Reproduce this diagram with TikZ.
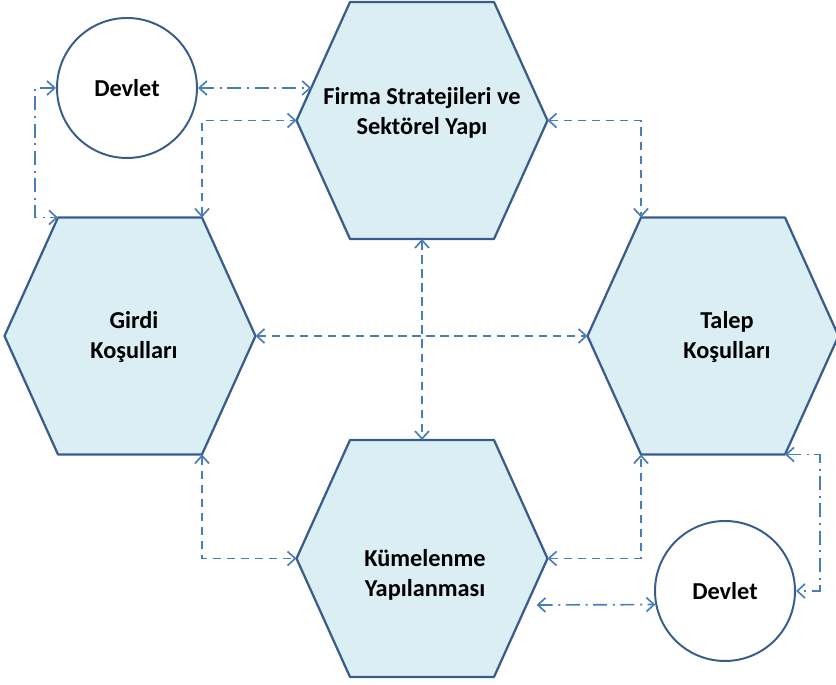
\documentclass[tikz,border=0pt]{standalone}
\usepackage{fontspec}
\setmainfont{Carlito}
\usepackage{tikz}
\usepackage{tkz-euclide}
\usetikzlibrary{calc}
\usetikzlibrary{positioning}
\usetikzlibrary{arrows.meta}

\definecolor{hexfill}{RGB}{219,238,244}
\definecolor{hexline}{RGB}{56,93,138}
\definecolor{linkblue}{RGB}{74,126,187}

\begin{document}
\begin{tikzpicture}[%
  >={Straight Barb[length=5.5pt,width=10pt]},
  hex/.style={fill=hexfill, draw=hexline, line width=1.6pt},
  gov/.style={circle, draw=hexline, line width=1.4pt, fill=white,
    minimum size=3.5cm, inner sep=0pt},
  lbl/.style={font=\fontsize{17.3}{21.5}\selectfont\bfseries, align=center},
  link/.style={<->, linkblue, line width=1.2pt, dash pattern=on 6pt off 4pt},
  govlink/.style={<->, linkblue, line width=1.2pt,
    dash pattern=on 10pt off 4pt on 1.4pt off 4pt},
]

  \useasboundingbox (0,0) rectangle (20.9,17.125);

  \tkzDefPoint(7.4125, 14.1125){f1}
  \tkzDefPoint(8.75, 17.075){f2}
  \tkzDefPoint(12.35, 17.075){f3}
  \tkzDefPoint(13.6875, 14.1125){f4}
  \tkzDefPoint(12.35, 11.15){f5}
  \tkzDefPoint(8.75, 11.15){f6}

  \tkzDefPoint(0.1125, 8.725){g1}
  \tkzDefPoint(1.45, 11.6875){g2}
  \tkzDefPoint(5.05, 11.6875){g3}
  \tkzDefPoint(6.3875, 8.725){g4}
  \tkzDefPoint(5.05, 5.7625){g5}
  \tkzDefPoint(1.45, 5.7625){g6}

  \tkzDefPoint(14.6875, 8.725){t1}
  \tkzDefPoint(16.025, 11.6875){t2}
  \tkzDefPoint(19.625, 11.6875){t3}
  \tkzDefPoint(20.9625, 8.725){t4}
  \tkzDefPoint(19.625, 5.7625){t5}
  \tkzDefPoint(16.025, 5.7625){t6}

  \tkzDefPoint(7.4125, 3.1625){k1}
  \tkzDefPoint(8.75, 6.125){k2}
  \tkzDefPoint(12.35, 6.125){k3}
  \tkzDefPoint(13.6875, 3.1625){k4}
  \tkzDefPoint(12.35, 0.2){k5}
  \tkzDefPoint(8.75, 0.2){k6}

  \tkzDrawPolygon[hex](f1,f2,f3,f4,f5,f6)
  \tkzDrawPolygon[hex](g1,g2,g3,g4,g5,g6)
  \tkzDrawPolygon[hex](t1,t2,t3,t4,t5,t6)
  \tkzDrawPolygon[hex](k1,k2,k3,k4,k5,k6)

  \tkzDefMidPoint(f5,f6)\tkzGetPoint{fb}
  \tkzDefMidPoint(k2,k3)\tkzGetPoint{kt}
  \coordinate (a1) at ($(f1)!0.2743!(f2)$);
  \coordinate (a2) at ($(k4)!0.3924!(k5)+(0.25,0)$);

  \node[lbl] (firma) at (10.55, 14.3) {Firma Stratejileri ve\\Sektörel Yapı};
  \node[lbl] (girdi) at (3.35, 8.7) {Girdi\\Koşulları};
  \node[lbl] (talep) at (18.175, 8.7) {Talep\\Koşulları};
  \node[lbl] (kume) at (10.625, 2.75) {Kümelenme\\Yapılanması};

  \node[gov, lbl] (D1) at (3.175, 14.925) {Devlet};
  \node[gov, lbl] (D2) at (18.125, 2.35) {Devlet};

  \draw[govlink] (D1.east) -- (D1.east -| a1);
  \draw[govlink] (D1.west) -- ++(-0.525,0) |- (g2);
  \draw[link] (g3) |- (f1);
  \draw[link] (f4) -| (t2);
  \draw[link] (fb) -- (kt);
  \draw[link] (g4) -- (t1);
  \draw[link] (g5) |- (k1);
  \draw[link] (k4) -| (t6);
  \draw[govlink] (a2) -- (D2.191.5);
  \draw[govlink] (t5) -- ++(0.875,0) |- (D2.east);

\end{tikzpicture}
\end{document}
